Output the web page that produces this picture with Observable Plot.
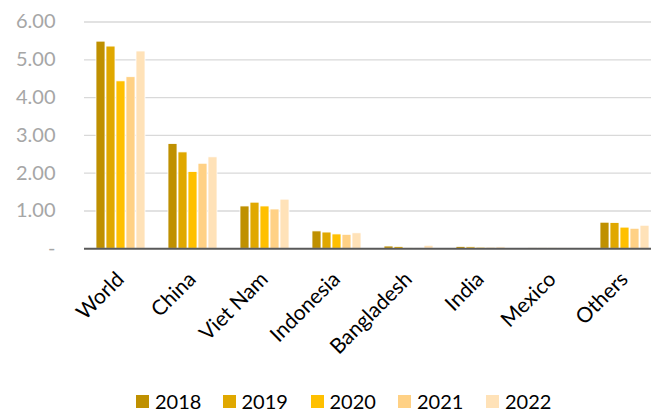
<!DOCTYPE html>
<html>
<head>
<meta charset="utf-8">
<script src="https://cdn.jsdelivr.net/npm/d3@7"></script>
<script src="https://cdn.jsdelivr.net/npm/@observablehq/plot@0.6"></script>
<style>
  html, body { margin: 0; padding: 0; background: #fff; overflow: hidden; }
  #chart { width: 651px; height: 375px; overflow: hidden; }
  #chart svg { max-width: none !important; }
  .legend { position: relative; height: 22px; margin-top: 15px; font-family: Lato, "Open Sans", sans-serif; font-size: 20px; line-height: 22px; color: #000; }
  .legend .item { position: absolute; top: 0; display: flex; align-items: center; height: 22px; }
  .legend .sw { width: 13px; height: 13px; margin-right: 6px; }
</style>
</head>
<body>
<div id="chart"></div>
<script>
const categories = ["World", "China", "Viet Nam", "Indonesia", "Bangladesh", "India", "Mexico", "Others"];
const years = ["2018", "2019", "2020", "2021", "2022"];
const v2018 = [5.48, 2.77, 1.12, 0.46, 0.06, 0.05, 0.01, 0.69];
const v2019 = [5.35, 2.55, 1.22, 0.43, 0.05, 0.04, 0.01, 0.68];
const v2020 = [4.43, 2.03, 1.12, 0.38, 0.02, 0.03, 0.01, 0.56];
const v2021 = [4.54, 2.25, 1.04, 0.37, 0.02, 0.03, 0.01, 0.53];
const v2022 = [5.22, 2.42, 1.30, 0.41, 0.08, 0.04, 0.01, 0.61];
const yTicks = [0, 1, 2, 3, 4, 5, 6];
const colors = ["#BF9000", "#E0A800", "#FFC000", "#FFD185", "#FFE2B8"];

const series = [v2018, v2019, v2020, v2021, v2022];
const data = [];
categories.forEach((c, i) => years.forEach((y, j) => data.push({category: c, year: y, value: series[j][i]})));

const font = 'Lato, "Open Sans", sans-serif';
const chart = Plot.plot({
  width: 661,
  height: 375,
  marginLeft: 83,
  marginRight: 0,
  marginTop: 21.5,
  marginBottom: 126.7,
  style: {fontFamily: font, background: "#fff", overflow: "hidden"},
  fx: {domain: categories, padding: 0, label: null},
  x: {domain: years, paddingInner: 0.15, paddingOuter: 0.91, axis: null},
  y: {domain: [0, 6], label: null},
  color: {domain: years, range: colors},
  marks: [
    Plot.ruleY(yTicks.filter(d => d > 0), {stroke: "#d9d9d9", strokeWidth: 1.3}),
    Plot.barY(data, {fx: "category", x: "year", y: "value", fill: "year", stroke: "#fff", strokeWidth: 0.8}),
    Plot.ruleY([0], {stroke: "#595959", strokeWidth: 2}),
    Plot.axisY({ticks: yTicks, tickSize: 0, tickPadding: 29, tickFormat: d => d === 0 ? "-" : d.toFixed(2), fontSize: 20, fill: "#a6a6a6", label: null}),
    Plot.axisFx({anchor: "bottom", tickRotate: -45, tickSize: 0, tickPadding: 27, fontSize: 21, fill: "#000", label: null})
  ]
});
document.getElementById("chart").appendChild(chart);

const legend = document.createElement("div");
legend.className = "legend";
const lx = [136, 222.5, 310.5, 398, 486];
years.forEach((y, i) => {
  const it = document.createElement("div");
  it.className = "item";
  it.style.left = lx[i] + "px";
  const sw = document.createElement("span");
  sw.className = "sw";
  sw.style.background = colors[i];
  const t = document.createElement("span");
  t.textContent = y;
  it.appendChild(sw); it.appendChild(t);
  legend.appendChild(it);
});
document.body.appendChild(legend);
</script>
</body>
</html>
